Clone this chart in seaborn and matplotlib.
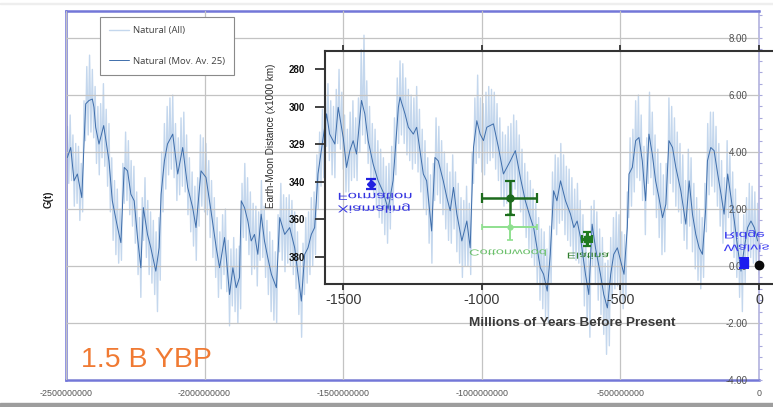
import numpy as np
import pandas as pd
import matplotlib
matplotlib.use("Agg")
import matplotlib.pyplot as plt
import seaborn as sns
from matplotlib.ticker import AutoMinorLocator
from matplotlib.patheffects import AbstractPathEffect
from matplotlib.transforms import Affine2D
from matplotlib.patches import Rectangle

# ---------------------------------------------------------------
# G(t), moving average (Mov. Av. 25): time in Myr before present
# ---------------------------------------------------------------
ma_myr = [
    -2495, -2483, -2471, -2459, -2443, -2429, -2417, -2405, -2399, -2393,
    -2381, -2364, -2345, -2333, -2314, -2302, -2290, -2278, -2266, -2254,
    -2242, -2230, -2221, -2206, -2194, -2176, -2164, -2157, -2145, -2134,
    -2115, -2097, -2079, -2061, -2043, -2031, -2013, -1995, -1977, -1958,
    -1946, -1928, -1910, -1898, -1886, -1874, -1868, -1856, -1844, -1832,
    -1820, -1808, -1796, -1784, -1772, -1759, -1741, -1729, -1711, -1693,
    -1675, -1663, -1651, -1639, -1627, -1615, -1603, -1591, -1579, -1560,
    -1549, -1530, -1518, -1500, -1488, -1476, -1464, -1452, -1434, -1422,
    -1410, -1392, -1374, -1356, -1338, -1320, -1301, -1295, -1277, -1265,
    -1247, -1235, -1223, -1211, -1199, -1181, -1169, -1157, -1139, -1126,
    -1114, -1102, -1090, -1072, -1054, -1042, -1030, -1018, -1006, -994,
    -982, -958, -940, -922, -897, -879, -861, -843, -825, -813,
    -801, -789, -777, -764, -753, -741, -729, -716, -698, -680,
    -668, -656, -644, -626, -614, -602, -590, -572, -560, -547,
    -535, -524, -511, -499, -487, -475, -469, -457, -445, -433,
    -421, -409, -397, -385, -373, -361, -348, -336, -325, -312,
    -300, -282, -264, -252, -240, -228, -216, -204, -192, -186,
    -174, -162, -149, -137, -126, -113, -101, -89, -77, -65,
    -53, -41, -29, -17, -5,
]
ma_val = [
    3.81, 4.16, 2.99, 3.23, 2.40, 5.69, 5.81, 5.86, 5.57, 4.87,
    4.28, 4.93, 3.69, 2.29, 1.35, 0.82, 3.46, 3.34, 2.52, 2.29,
    1.00, -0.06, 2.05, 1.11, 0.64, -0.18, 0.64, 2.52, 3.69, 4.28,
    4.63, 3.23, 4.16, 2.76, 2.05, 1.35, 3.34, 3.11, 1.94, 0.64,
    -0.06, 1.00, -1.00, -0.06, -0.76, -0.40, 2.29, 2.05, 1.58, 0.88,
    1.11, 0.41, 1.82, 0.88, 0.29, -0.29, -0.76, 1.70, 1.11, 1.35,
    0.64, -0.29, -1.23, 0.41, 0.64, 1.11, 1.35, 3.23, 4.05, 5.34,
    4.63, 4.28, 5.57, 4.51, 3.46, 4.05, 4.40, 3.93, 5.81, 5.34,
    4.40, 3.58, 2.99, 2.60, 2.00, 3.00, 5.57, 5.92, 5.34, 4.87,
    4.63, 4.87, 4.05, 3.23, 2.99, 1.23, 3.81, 3.69, 2.99, 2.40,
    1.94, 2.76, 1.82, 0.88, 1.58, 0.64, 4.16, 5.10, 4.63, 4.40,
    4.87, 4.99, 4.16, 3.23, 3.69, 4.05, 3.11, 2.29, 1.70, 1.35,
    0.64, -0.06, -0.29, -0.88, 0.41, 2.64, 2.29, 2.99, 2.29, 1.82,
    1.35, 1.58, 1.00, -0.29, -1.00, 1.47, 0.64, -0.29, -1.00, -1.47,
    -0.29, 0.41, 0.64, 0.17, -0.29, 1.35, 3.23, 3.46, 4.40, 4.51,
    3.69, 2.29, 4.63, 3.93, 2.99, 2.40, 1.70, 2.17, 4.40, 4.16,
    3.46, 2.64, 1.47, 2.99, 1.82, 1.11, 0.64, 0.41, 2.05, 3.69,
    4.16, 4.05, 3.23, 2.52, 1.82, 3.23, 2.40, 1.58, 0.64, -0.18,
    0.64, 1.35, 1.58, 1.35, 0.88,
]

# ---------------------------------------------------------------
# G(t), every sample (Natural, All): one value per 5 Myr
# ---------------------------------------------------------------
raw_first_myr = -2495
raw_step_myr = 5
raw_val = [
    4.9, 2.9, 5.3, 3.0, 4.6, 2.1, 4.3, 2.2, 4.2, 1.6, 3.6, 1.9, 5.8, 4.4, 7.0, 4.6, 7.4, 4.7, 6.9, 4.5,
    6.3, 3.6, 5.6, 3.2, 5.7, 3.8, 6.4, 3.5, 5.5, 2.8, 5.0, 1.9, 3.8, 0.9, 3.0, 0.4, 2.7, 0.1, 2.0, 0.2,
    3.6, 2.2, 4.7, 2.3, 4.4, 1.8, 3.7, 1.4, 3.5, 0.8, 2.6, -0.3, 1.7, -1.1, 2.4, 0.9, 3.1, 0.3, 2.3, -0.3,
    1.9, -0.6, 1.6, -1.0, 1.2, -1.6, 1.7, -0.5, 4.0, 1.9, 5.0, 2.7, 5.6, 3.2, 5.9, 3.4, 6.0, 3.1, 5.0, 2.3,
    4.5, 2.5, 5.2, 2.8, 5.4, 2.6, 4.6, 1.8, 3.8, 1.2, 3.3, 0.7, 2.8, 0.2, 3.1, 1.4, 4.6, 2.1, 4.5, 1.9,
    4.3, 1.8, 3.7, 1.0, 3.0, 0.3, 2.4, -0.4, 1.7, -1.1, 1.2, -0.8, 1.8, -0.3, 2.0, -0.9, 0.9, -2.1, 0.6, -1.4,
    1.0, -1.6, 0.6, -2.0, 0.7, -1.5, 2.9, 1.0, 3.6, 0.9, 3.1, 0.4, 2.6, -0.3, 2.2, -0.1, 2.1, -0.7, 1.9, 0.2,
    3.0, 0.3, 2.1, -0.4, 1.6, -1.0, 1.2, -1.6, 0.9, -1.9, 0.5, -2.0, 1.8, 0.5, 2.9, 0.2, 2.5, -0.2, 2.4, 0.1,
    2.5, 0.0, 2.3, -0.3, 1.9, -0.8, 1.2, -1.7, 0.4, -2.5, 0.8, -1.0, 1.7, -0.6, 1.9, -0.3, 2.4, 0.0, 2.6, 0.4,
    3.9, 2.0, 4.7, 2.8, 5.5, 3.1, 6.3, 4.2, 6.4, 3.7, 5.8, 3.2, 5.6, 3.1, 6.2, 4.3, 6.9, 4.1, 6.1, 3.4,
    5.3, 2.6, 4.8, 2.6, 5.4, 3.0, 5.8, 3.1, 5.2, 3.0, 5.9, 4.0, 7.6, 4.6, 8.1, 4.3, 6.5, 3.6, 5.6, 2.9,
    5.0, 2.5, 4.8, 2.0, 4.4, 1.7, 4.1, 1.5, 3.8, 1.1, 3.5, 0.8, 3.6, 1.3, 4.2, 1.9, 5.2, 3.2, 6.6, 4.3,
    7.2, 4.6, 7.1, 4.3, 6.6, 3.9, 6.2, 3.7, 6.0, 3.4, 5.9, 3.6, 6.3, 3.3, 5.5, 2.6, 4.8, 2.0, 4.4, 1.8,
    3.8, 0.8, 3.2, 0.1, 3.6, 2.3, 5.2, 2.5, 4.9, 2.2, 4.4, 1.8, 4.0, 1.3, 3.6, 0.9, 3.3, 0.8, 3.9, 1.3,
    3.3, 0.5, 2.9, 0.1, 2.4, -0.4, 2.3, 0.0, 2.8, 0.0, 2.2, -0.3, 4.0, 2.9, 5.9, 3.6, 6.7, 3.8, 5.9, 3.3,
    5.7, 3.2, 6.1, 3.6, 6.3, 3.7, 6.2, 3.8, 6.1, 3.4, 5.7, 3.0, 5.2, 2.4, 4.7, 2.1, 4.6, 2.2, 4.9, 2.4,
    5.0, 2.5, 5.3, 2.7, 5.1, 2.4, 4.6, 1.9, 4.1, 1.4, 3.6, 1.0, 3.3, 0.6, 3.0, 0.3, 2.7, 0.0, 2.2, -0.6,
    1.7, -1.2, 1.3, -1.5, 1.2, -1.8, 0.6, -2.0, 1.4, -0.6, 3.3, 1.3, 3.9, 1.1, 3.8, 1.5, 4.3, 1.6, 3.9, 1.1,
    3.5, 0.9, 3.4, 0.7, 3.1, 0.3, 2.7, 0.2, 2.9, 0.1, 2.3, -0.6, 1.8, -1.4, 1.1, -2.0, 0.4, -2.5, 2.1, 0.0,
    2.3, -0.6, 1.9, -1.2, 1.3, -1.7, 1.0, -2.4, 0.1, -3.1, 0.2, -2.8, 1.0, -1.3, 1.7, -0.8, 1.9, -0.7, 1.8, -1.2,
    1.2, -1.5, 1.1, -1.1, 2.6, 1.7, 4.5, 2.1, 4.8, 2.6, 5.8, 3.1, 6.0, 3.0, 5.3, 2.3, 4.2, 1.1, 4.5, 2.9,
    6.1, 3.1, 5.4, 2.5, 4.6, 1.7, 4.1, 1.0, 3.6, 0.4, 3.2, 0.5, 3.6, 2.0, 5.9, 2.9, 5.6, 2.6, 5.2, 2.1,
    4.7, 1.9, 4.3, 1.5, 3.9, 0.9, 3.0, 0.6, 4.1, 1.4, 3.8, 0.5, 2.9, -0.1, 2.4, -0.5, 2.0, -0.8, 1.7, -0.4,
    2.9, 1.2, 5.0, 2.5, 5.4, 2.8, 5.4, 2.6, 4.9, 2.1, 4.3, 1.4, 3.7, 0.8, 3.1, 1.0, 4.4, 1.7, 3.9, 1.1,
    3.3, 0.3, 2.7, -0.4, 1.9, -1.1, 1.2, -1.6, 1.8, -0.6, 2.4, 0.1, 2.9, 0.3, 2.8, 0.1, 2.6, -0.1, 2.2, -0.3,
]

x_tick_years = [-2.5e9, -2.0e9, -1.5e9, -1.0e9, -0.5e9, 0.0]
x_tick_labels = ["-2500000000", "-2000000000", "-1500000000",
                 "-1000000000", "-500000000", "0"]
g_ticks = [-4, -2, 0, 2, 4, 6, 8]
g_tick_labels = ["-4.00", "-2.00", "0.00", "2.00", "4.00", "6.00", "8.00"]

# ---------------------------------------------------------------
# Earth-Moon distance estimates (x1000 km) for the inset
# ---------------------------------------------------------------
site_names = ["Xiamaling\nFormation", "", "Cottonwood", "Elatina", "Walvis\nRidge", ""]
site_myr = [-1400, -900, -900, -620, -55, 0]
site_km = [341.0, 348.5, 364.0, 370.5, 383.4, 384.4]
site_xerr = [0, 100, 100, 19, 0, 0]
site_yerr = [2.7, 9.0, 7.0, 3.7, 2.7, 0]
inset_x_ticks = [-1500, -1000, -500, 0]
inset_x_labels = ["-1500", "-1000", "-500", "0"]
inset_y_ticks = [280, 300, 320, 340, 360, 380]
inset_y_labels = ["280", "300", "329", "340", "360", "380"]


class MirrorV(AbstractPathEffect):
    """Draws a text block mirrored top-to-bottom about its own centre."""

    def __init__(self, text, squash=0.6):
        super().__init__()
        self.text = text
        self.squash = squash

    def draw_path(self, renderer, gc, tpath, affine, rgbFace=None):
        bb = self.text.get_window_extent(renderer)
        cy = 0.5 * (bb.y0 + bb.y1)
        flip = Affine2D().translate(0, -cy).scale(1, -self.squash).translate(0, cy)
        renderer.draw_path(gc, tpath, affine + flip, rgbFace)


sns.set_theme(style="white")
plt.rcParams["font.family"] = ["Liberation Sans", "DejaVu Sans"]
plt.rcParams["axes.unicode_minus"] = False

W, H = 773, 407
fig = plt.figure(figsize=(W / 100, H / 100), dpi=100)
fig.patch.set_facecolor("white")

# main panel: 66..759 px horizontally, 11..380 px vertically
ax = fig.add_axes([66 / W, (H - 380) / H, (759 - 66) / W, (380 - 11) / H])
ax.set_facecolor("white")

raw_myr = np.arange(len(raw_val)) * raw_step_myr + raw_first_myr
raw_df = pd.DataFrame({"years": raw_myr * 1e6, "G": raw_val})
ma_df = pd.DataFrame({"years": np.asarray(ma_myr) * 1e6, "G": ma_val})

sns.lineplot(data=raw_df, x="years", y="G", ax=ax, color="#c4d7ed",
             lw=1.0, label="Natural (All)", zorder=2)
sns.lineplot(data=ma_df, x="years", y="G", ax=ax, color="#3f6eab",
             lw=0.7, label="Natural (Mov. Av. 25)", zorder=3)

ax.set_xlim(-2.5e9, 0)
ax.set_ylim(-4, 8.95)
ax.set_xticks(x_tick_years, labels=x_tick_labels)
ax.set_yticks(g_ticks, labels=g_tick_labels)
ax.yaxis.tick_right()
ax.yaxis.set_minor_locator(AutoMinorLocator(5))
ax.tick_params(axis="x", length=0, pad=6.5, labelsize=6.4, labelcolor="#555555")
ax.tick_params(axis="y", which="both", direction="out", right=True, left=False,
               color="#a9a9dc", width=0.8)
ax.tick_params(axis="y", which="major", length=2.2, pad=-10.3,
               labelsize=7, labelcolor="#505050")
ax.tick_params(axis="y", which="minor", length=2.2)
plt.setp(ax.get_yticklabels(), ha="right")
ax.grid(True, which="major", color="#c3c3c3", lw=0.9)
# grid and tick labels sit over the light raw trace, under the moving average
ax.set_axisbelow(False)

for side in ["left", "top", "bottom"]:
    ax.spines[side].set_color("#7377d8")
    ax.spines[side].set_linewidth(1.8)
ax.spines["right"].set_color("#b2b2e2")
ax.spines["right"].set_linewidth(1.2)

ax.set_xlabel("")
ax.set_ylabel("G(t)", fontsize=7, fontweight="bold", color="#222222")
ax.yaxis.set_label_position("left")
ax.yaxis.set_label_coords(-0.018, 0.49)

leg = ax.legend(loc="upper left", bbox_to_anchor=(0.049, 0.984),
                borderaxespad=0, frameon=True, fancybox=False,
                edgecolor="#8a8a8a", framealpha=1,
                handlelength=2.1, handletextpad=0.35, labelspacing=2.25,
                borderpad=1.0, prop={"family": ["Open Sans", "DejaVu Sans"], "size": 6.8})
leg.get_frame().set_linewidth(0.8)
leg.set_zorder(6)
for t in leg.get_texts():
    t.set_color("#404040")

ax.text(0.0216, 0.036, "1.5 B YBP", transform=ax.transAxes,
        ha="left", va="baseline", color="#f07a33", fontsize=20.5)

# inset: Earth-Moon distance, same time scale as the main panel
ins = fig.add_axes([325 / W, (H - 284) / H, (W - 325) / W, (284 - 51) / H],
                   facecolor="none", zorder=5)
ins.set_xlim(-1566, 50.5)
ins.set_ylim(394.4, 270.4)
for side in ["left", "top", "bottom"]:
    ins.spines[side].set_color("#333333")
    ins.spines[side].set_linewidth(1.5)
ins.spines["right"].set_visible(False)
ins.set_xticks(inset_x_ticks, labels=inset_x_labels)
ins.set_yticks(inset_y_ticks, labels=inset_y_labels)
ins.tick_params(axis="x", which="major", direction="out", top=True, bottom=True,
                length=4.5, width=1.3, color="#333333", pad=2.0,
                labelsize=10.3, labelcolor="#383838")
ins.tick_params(axis="y", which="major", direction="out", left=True, right=False,
                length=7.2, width=1.3, color="#333333", pad=7,
                labelsize=7, labelcolor="#111111")
for lab in ins.get_yticklabels():
    lab.set_fontweight("bold")
ins.grid(False)

ins.set_xlabel("Millions of Years Before Present", fontsize=9.7,
               fontweight="bold", color="#3a3a3a")
ins.xaxis.set_label_coords(0.551, -0.142)
ins.set_ylabel("Earth-Moon Distance (x1000 km)", fontsize=7.1, color="#2a2a2a")
ins.yaxis.set_label_coords(-0.11, 0.635)

# distance estimates with their uncertainty
ins.errorbar(site_myr[0], site_km[0], yerr=site_yerr[0], fmt="D", ms=4,
             color="#2222e0", elinewidth=1.6, capsize=3.5, capthick=1.6, zorder=6)
ins.errorbar(site_myr[2], site_km[2], xerr=site_xerr[2], yerr=site_yerr[2],
             fmt="o", ms=3.5, color="#8fe08f", elinewidth=1.4, capsize=2.5,
             capthick=1.2, zorder=6)
ins.errorbar(site_myr[1], site_km[1], xerr=site_xerr[1], yerr=site_yerr[1],
             fmt="o", ms=5, color="#1d6b1d", elinewidth=1.8, capsize=3.5,
             capthick=1.6, zorder=7)
ins.errorbar(site_myr[3], site_km[3], xerr=site_xerr[3], yerr=site_yerr[3],
             fmt="s", ms=4.5, color="#1f7a1f", elinewidth=2.2, capsize=3,
             capthick=1.6, zorder=7)
ins.errorbar(site_myr[4], site_km[4], yerr=site_yerr[4], fmt="s", ms=5.5,
             color="#1c1cf0", elinewidth=1.4, capsize=3.5, capthick=1.4, zorder=7)
ins.plot(site_myr[5], site_km[5], "o", ms=6, color="#0a0a0a", zorder=7,
         clip_on=False)

site_text_pos = [(-1385, 350.7, "center", "#3434e0", 12),
                 (-905, 377.3, "center", "#6cc06c", 10.5),
                 (-617, 379.0, "center", "#2e7d2e", 10),
                 (-127, 371.5, "left", "#3a3af0", 11.3)]
for name, (tx, ty, ha, col, fs) in zip([site_names[0], site_names[2], site_names[3], site_names[4]],
                                       site_text_pos):
    txt = ins.text(tx, ty, name, ha=ha, va="center", color=col, fontsize=fs,
                   linespacing=1.5, multialignment="left", clip_on=False, zorder=8)
    txt.set_path_effects([MirrorV(txt, 0.6)])

# slide edge shading
fig.patches.append(Rectangle((0, 0), 1, 4 / H, transform=fig.transFigure,
                             color="#9d9d9d", zorder=0))
fig.patches.append(Rectangle((0, 1 - 3.5 / H), 1, 0.8 / H, transform=fig.transFigure,
                             color="#eeeeee", zorder=0))

fig.savefig("out.png", dpi=100, facecolor="white")
